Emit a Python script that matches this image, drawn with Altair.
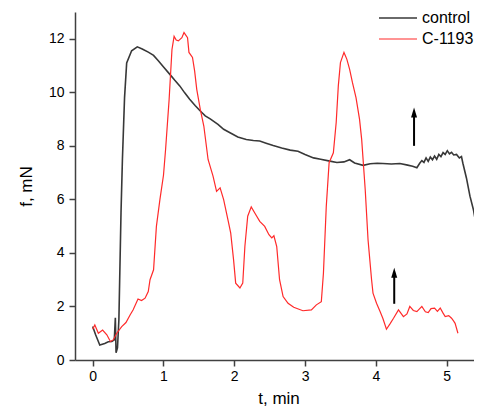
import altair as alt
import pandas as pd

# control series (t in min, f in mN)
control_t = [0.00, 0.04, 0.10, 0.17, 0.22, 0.27, 0.305, 0.32, 0.33, 0.35, 0.37, 0.385, 0.40, 0.42, 0.45, 0.48,
             0.55, 0.63, 0.70, 0.785, 0.86, 0.93, 1.01, 1.09, 1.16, 1.23, 1.30, 1.37, 1.45, 1.52, 1.59, 1.66,
             1.77, 1.85, 1.94, 2.05, 2.17, 2.27, 2.36, 2.45, 2.55, 2.67, 2.79, 2.90, 3.00, 3.12, 3.22, 3.35,
             3.45, 3.55, 3.63, 3.70, 3.82, 3.92, 4.02, 4.10, 4.22, 4.34, 4.45, 4.52, 4.58, 4.62, 4.65, 4.68,
             4.71, 4.74, 4.77, 4.80, 4.83, 4.86, 4.89, 4.92, 4.95, 4.98, 5.01, 5.04, 5.07, 5.10, 5.14, 5.18,
             5.21, 5.23, 5.28, 5.33, 5.38, 5.42, 5.46, 5.50]
control_f = [1.25, 0.95, 0.56, 0.62, 0.68, 0.69, 0.75, 1.58, 0.27, 0.45, 1.5, 3.5, 5.5, 7.5, 9.8, 11.1,
             11.55, 11.70, 11.62, 11.50, 11.38, 11.17, 10.92, 10.67, 10.45, 10.24, 9.98, 9.74, 9.50, 9.30, 9.12, 9.01,
             8.80, 8.62, 8.49, 8.33, 8.24, 8.20, 8.18, 8.10, 8.01, 7.92, 7.84, 7.80, 7.68, 7.55, 7.50, 7.43,
             7.38, 7.40, 7.48, 7.36, 7.27, 7.33, 7.35, 7.34, 7.32, 7.34, 7.28, 7.24, 7.18, 7.35, 7.45, 7.38,
             7.55, 7.42, 7.58, 7.48, 7.62, 7.50, 7.68, 7.60, 7.75, 7.68, 7.82, 7.70, 7.76, 7.66, 7.68, 7.55,
             7.60, 7.35, 6.80, 6.12, 5.60, 4.99, 4.30, 3.62]

# C-1193 series
c1193_t = [0.00, 0.03, 0.08, 0.14, 0.20, 0.25, 0.29, 0.34, 0.41, 0.47, 0.53, 0.57, 0.64, 0.69, 0.74, 0.785,
           0.81, 0.86, 0.90, 0.95, 1.00, 1.03, 1.08, 1.12, 1.15, 1.18, 1.21, 1.26, 1.29, 1.34, 1.36, 1.41,
           1.44, 1.47, 1.52, 1.57, 1.63, 1.70, 1.75, 1.80, 1.85, 1.92, 1.95, 1.99, 2.02, 2.08, 2.12, 2.15,
           2.19, 2.24, 2.29, 2.36, 2.43, 2.49, 2.53, 2.56, 2.60, 2.64, 2.69, 2.76, 2.84, 2.97, 3.09, 3.16,
           3.23, 3.26, 3.30, 3.34, 3.40, 3.44, 3.47, 3.50, 3.55, 3.59, 3.63, 3.67, 3.72, 3.77, 3.80, 3.85,
           3.89, 3.94, 3.96, 4.01, 4.06, 4.10, 4.15, 4.20, 4.25, 4.32, 4.39, 4.44, 4.48, 4.53, 4.58, 4.62,
           4.65, 4.70, 4.74, 4.78, 4.83, 4.87, 4.91, 4.95, 4.98, 5.03, 5.07, 5.10, 5.12, 5.16]
c1193_f = [1.15, 1.31, 1.00, 1.12, 0.94, 0.69, 0.75, 1.00, 1.25, 1.40, 1.69, 1.87, 2.28, 2.22, 2.31, 2.56,
           3.00, 3.37, 4.99, 6.00, 6.90, 7.87, 9.74, 11.60, 12.09, 11.95, 11.92, 12.04, 12.23, 12.04, 11.49, 11.30,
           10.80, 10.11, 9.36, 8.74, 7.49, 6.87, 6.30, 6.43, 5.99, 5.12, 4.74, 3.75, 2.87, 2.69, 2.87, 4.24,
           5.37, 5.72, 5.49, 5.18, 4.99, 4.68, 4.56, 4.64, 4.24, 3.00, 2.37, 2.12, 1.97, 1.84, 1.87, 2.06,
           2.18, 3.25, 5.74, 7.37, 7.74, 8.87, 10.24, 11.11, 11.49, 11.24, 10.86, 10.36, 9.80, 8.99, 8.24, 6.37,
           4.49, 3.00, 2.50, 2.12, 1.81, 1.55, 1.15, 1.35, 1.56, 1.87, 1.62, 1.72, 2.00, 1.85, 1.81, 1.92,
           2.00, 1.80, 1.77, 1.92, 1.94, 1.82, 1.94, 1.75, 1.62, 1.66, 1.56, 1.45, 1.37, 1.00]

series_names = ["control", "C-1193"]
series_colors = ["#383838", "#ff2a2a"]
series_widths = [1.6, 1.2]

# arrows: x, base, tip-head centre
arrow_t = [4.54, 4.26]
arrow_base = [8.0, 2.1]
arrow_head = [9.25, 3.26]

x_ticks = [v / 2 for v in range(0, 12)]
y_ticks = list(range(0, 14))

df = pd.concat([
    pd.DataFrame({"t": control_t, "f": control_f, "series": series_names[0], "order": range(len(control_t))}),
    pd.DataFrame({"t": c1193_t, "f": c1193_f, "series": series_names[1], "order": range(len(c1193_t))}),
])
arrows = pd.DataFrame({"t": arrow_t, "base": arrow_base, "head": arrow_head})

x_scale = alt.Scale(domain=[-0.25, 5.5], nice=False, zero=False)
y_scale = alt.Scale(domain=[0, 13], nice=False, zero=False)

x_axis = alt.Axis(values=x_ticks, title="t, min", format="d",
                  labelExpr="datum.value % 1 != 0 ? '' : datum.label",
                  tickSize=alt.condition("datum.value % 1 != 0", alt.value(3), alt.value(6)),
                  labelPadding=3, titlePadding=7)
y_axis = alt.Axis(values=y_ticks, title="f, mN", format="d",
                  labelExpr="datum.value % 2 != 0 ? '' : datum.label",
                  tickSize=alt.condition("datum.value % 2 != 0", alt.value(3), alt.value(6)),
                  labelPadding=5, titlePadding=13)

lines = alt.Chart(df).mark_line(clip=True).encode(
    x=alt.X("t:Q", scale=x_scale, axis=x_axis),
    y=alt.Y("f:Q", scale=y_scale, axis=y_axis),
    color=alt.Color("series:N", scale=alt.Scale(domain=series_names, range=series_colors),
                    legend=alt.Legend(title=None, orient="none", legendX=303, legendY=-4,
                                      symbolType="stroke", symbolSize=1444, symbolStrokeWidth=1.2,
                                      clipHeight=20, rowPadding=1,
                                      labelFontSize=16, labelFont="Liberation Sans", labelColor="black",
                                      labelOffset=4)),
    strokeWidth=alt.StrokeWidth("series:N", scale=alt.Scale(domain=series_names, range=series_widths),
                                legend=None),
    order="order:Q",
)

shafts = alt.Chart(arrows).mark_rule(color="black", strokeWidth=2).encode(
    x=alt.X("t:Q", scale=x_scale),
    y=alt.Y("base:Q", scale=y_scale),
    y2="head:Q",
)
heads = alt.Chart(arrows).mark_point(filled=True, color="black", opacity=1,
                                     shape="M0,-1L0.6,1L-0.6,1Z", size=100).encode(
    x=alt.X("t:Q", scale=x_scale),
    y=alt.Y("head:Q", scale=y_scale),
)

chart = alt.layer(lines, shafts, heads).properties(
    width=407, height=348,
    autosize=alt.AutoSizeParams(type="none"),
    padding={"left": 67, "top": 4, "right": -8, "bottom": 50},
).configure_view(stroke=None).configure_axis(
    grid=False, domainColor="#404040", domainWidth=1.5, tickColor="#404040", tickWidth=1.5,
    labelFont="Liberation Sans", labelFontSize=14, labelColor="black",
    titleFont="Liberation Sans", titleFontSize=17, titleFontWeight="normal", titleColor="black",
)

chart.save("out.html", embed_options={"renderer": "svg", "actions": False})
